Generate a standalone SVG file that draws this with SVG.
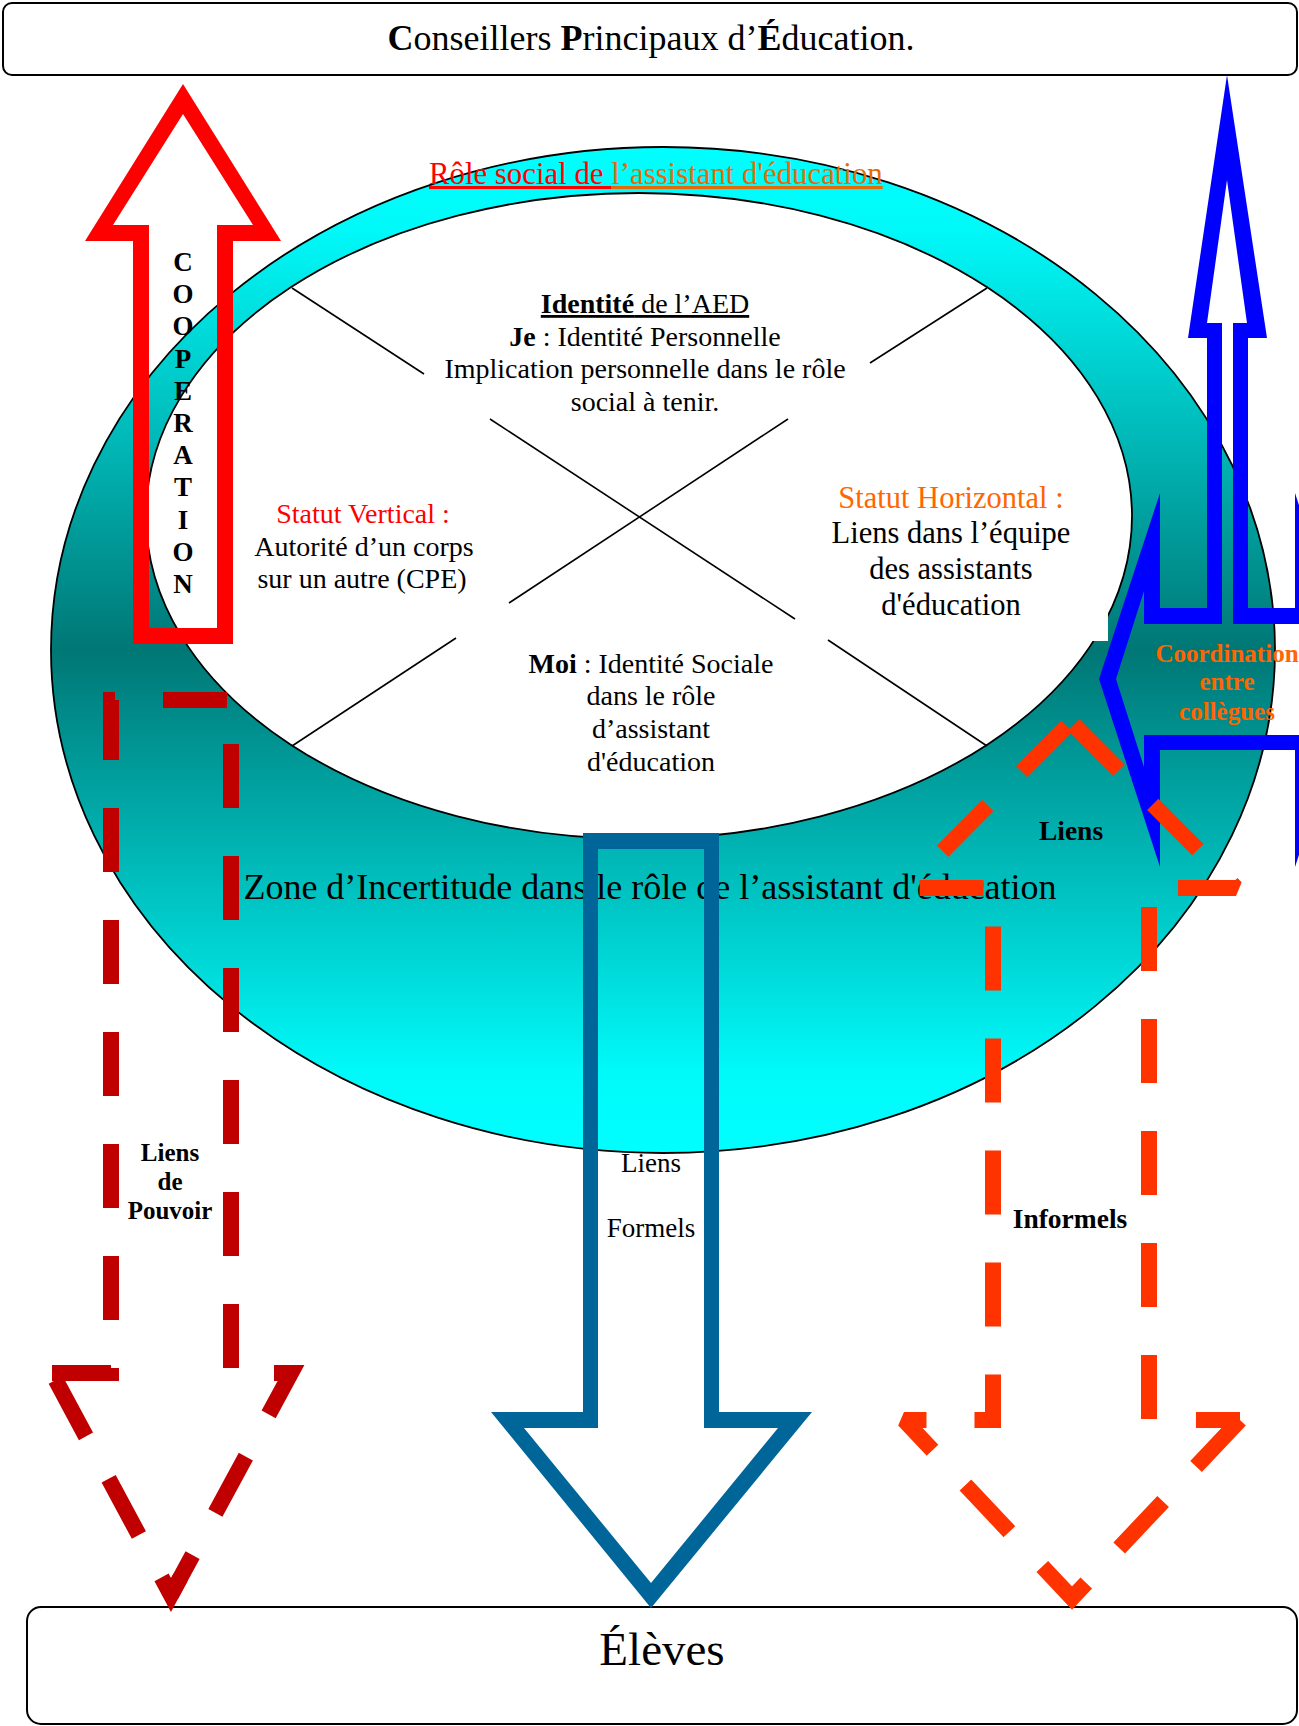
<svg xmlns="http://www.w3.org/2000/svg" width="1299" height="1726" viewBox="0 0 1299 1726">
<style>
text{font-family:"Liberation Serif","Times New Roman",serif;fill:#000}
.c{text-anchor:middle}
.b{font-weight:bold}
.box{fill:#fff;stroke:#000;stroke-width:2}
.xl{stroke:#000;stroke-width:1.6;fill:none}
.dash{fill:none;stroke-width:16;stroke-dasharray:64 48;stroke-linejoin:miter;stroke-miterlimit:10}
.dash2{fill:none;stroke-width:16;stroke-dasharray:64 48;stroke-linejoin:miter;stroke-miterlimit:2}
</style>
<defs>
<linearGradient id="ring" gradientUnits="userSpaceOnUse" x1="0" y1="147" x2="0" y2="1153">
<stop offset="0" stop-color="#00FFFF"/>
<stop offset="0.08" stop-color="#00FAFA"/>
<stop offset="0.5" stop-color="#007775"/>
<stop offset="0.92" stop-color="#00FAFA"/>
<stop offset="1" stop-color="#00FFFF"/>
</linearGradient>
</defs>

<g id="cpe">
<rect class="box" x="3" y="3" width="1294" height="72" rx="9"/>
<text class="c" x="651" y="50" font-size="36"><tspan class="b">C</tspan>onseillers <tspan class="b">P</tspan>rincipaux d’<tspan class="b">É</tspan>ducation.</text>
</g>

<g id="eleves">
<rect class="box" x="27" y="1607" width="1270" height="117" rx="14"/>
<text class="c" x="662" y="1665" font-size="47">Élèves</text>
</g>

<g id="ring-node">
<ellipse cx="663" cy="650" rx="612" ry="503" fill="url(#ring)" stroke="#000" stroke-width="1.8"/>
<ellipse cx="639" cy="516" rx="493" ry="323" fill="#fff" stroke="#000" stroke-width="1.8"/>
<rect x="794" y="470" width="314" height="171" fill="#fff"/>
<g id="cross">
<line class="xl" x1="292" y1="288" x2="424" y2="374"/>
<line class="xl" x1="490" y1="419" x2="795" y2="619"/>
<line class="xl" x1="828" y1="640" x2="987" y2="746"/>
<line class="xl" x1="987" y1="288" x2="870" y2="363"/>
<line class="xl" x1="788" y1="419" x2="509" y2="603"/>
<line class="xl" x1="456" y1="638" x2="292" y2="746"/>
</g>
<text x="429" y="184" font-size="30.8"><tspan fill="#FF0000" text-decoration="underline">Rôle social de </tspan><tspan fill="#E36C0A" text-decoration="underline">l’assistant d'éducation</tspan></text>
</g>

<g id="identite" font-size="28">
<text class="c" x="645" y="313" text-decoration="underline"><tspan class="b">Identité</tspan> de l’AED</text>
<text class="c" x="645" y="345.5"><tspan class="b">Je</tspan> : Identité Personnelle</text>
<text class="c" x="645" y="378">Implication personnelle dans le rôle</text>
<text class="c" x="645" y="410.5">social à tenir.</text>
</g>

<g id="statut-vertical" font-size="28">
<text class="c" x="363" y="523" style="fill:#FF0000">Statut Vertical :</text>
<text class="c" x="364" y="555.5">Autorité d’un corps</text>
<text class="c" x="362" y="588">sur un autre (CPE)</text>
</g>

<g id="statut-horizontal" font-size="30.5">
<text class="c" x="951" y="508" style="fill:#FF6600">Statut Horizontal :</text>
<text class="c" x="951" y="543">Liens dans l’équipe</text>
<text class="c" x="951" y="579">des assistants</text>
<text class="c" x="951" y="615">d'éducation</text>
</g>

<g id="moi" font-size="28">
<text class="c" x="651" y="672.5"><tspan class="b">Moi</tspan> : Identité Sociale</text>
<text class="c" x="651" y="704.5">dans le rôle</text>
<text class="c" x="651" y="737.5">d’assistant</text>
<text class="c" x="651" y="770.5">d'éducation</text>
</g>

<g id="zone">
<text class="c" x="650" y="899" font-size="36">Zone d’Incertitude dans le rôle de l’assistant d'éducation</text>
</g>

<g id="connectors">
<g id="liens-formels">
<path fill="#006699" fill-rule="evenodd" d="M583,833 H719 V1412 H812 L651,1608 L491,1412 H583 Z M598,849 V1428 H524 L651,1583 L778,1428 H704 V849 Z"/>
<text class="c" x="651" y="1172" font-size="27">Liens</text>
<text class="c" x="651" y="1237" font-size="27">Formels</text>
</g>
<g id="cooperation">
<path fill="#FF0000" fill-rule="evenodd" d="M183,84 L281,241 H233 V644 H133 V241 H85 Z M183,114 L113,225 H149 V628 H217 V225 H253 Z"/>
<g class="b" font-size="27">
<text class="c" x="183" y="271">C</text>
<text class="c" x="183" y="303.2">O</text>
<text class="c" x="183" y="335.4">O</text>
<text class="c" x="183" y="367.6">P</text>
<text class="c" x="183" y="399.8">E</text>
<text class="c" x="183" y="432">R</text>
<text class="c" x="183" y="464.2">A</text>
<text class="c" x="183" y="496.4">T</text>
<text class="c" x="183" y="528.6">I</text>
<text class="c" x="183" y="560.8">O</text>
<text class="c" x="183" y="593">N</text>
</g>
</g>
<g id="liens-pouvoir">
<path class="dash" stroke="#C00000" d="M52,1373 H111 V700 H231 V1373 H291 L171,1595"/>
<path class="dash" stroke="#C00000" stroke-dashoffset="24" d="M180.5,1577.4 L171,1595 L52,1373"/>
<text class="c b" x="170" y="1161" font-size="25">Liens</text>
<text class="c b" x="170" y="1190" font-size="25">de</text>
<text class="c b" x="170" y="1219" font-size="25">Pouvoir</text>
</g>
<g id="coordination">
<path fill="#0000FF" fill-rule="evenodd" d="M1227,75 L1267,338 H1248 V608 H1295 V493 L1356,679 L1295,867 V750 H1160 V867 L1099,679 L1160,493 V608 H1207 V338 H1188 Z M1227,180 L1207,323 H1222 V624 H1144 V591 L1116,679 L1144,767 V735 H1311 V767 L1339,679 L1311,591 V624 H1233 V323 H1247 Z"/>
<text class="c b" x="1227" y="662" font-size="25" style="fill:#FF6600">Coordination</text>
<text class="c b" x="1227" y="690" font-size="25" style="fill:#FF6600">entre</text>
<text class="c b" x="1227" y="720" font-size="25" style="fill:#FF6600">collègues</text>
</g>
<g id="liens-informels">
<path class="dash2" stroke="#FF3300" d="M1240,1420 L1072,1598 L904,1420 H993 V888 H906"/>
<path class="dash2" stroke="#FF3300" stroke-dashoffset="-4" d="M1071,722 L1236,888 H1149 V1420 H1240"/>
<path class="dash2" stroke="#FF3300" d="M1066.8,726.3 L917,877"/>
<text class="c b" x="1071" y="840" font-size="27.5">Liens</text>
<text class="c b" x="1070" y="1228" font-size="27.5">Informels</text>
</g>
</g>
</svg>
